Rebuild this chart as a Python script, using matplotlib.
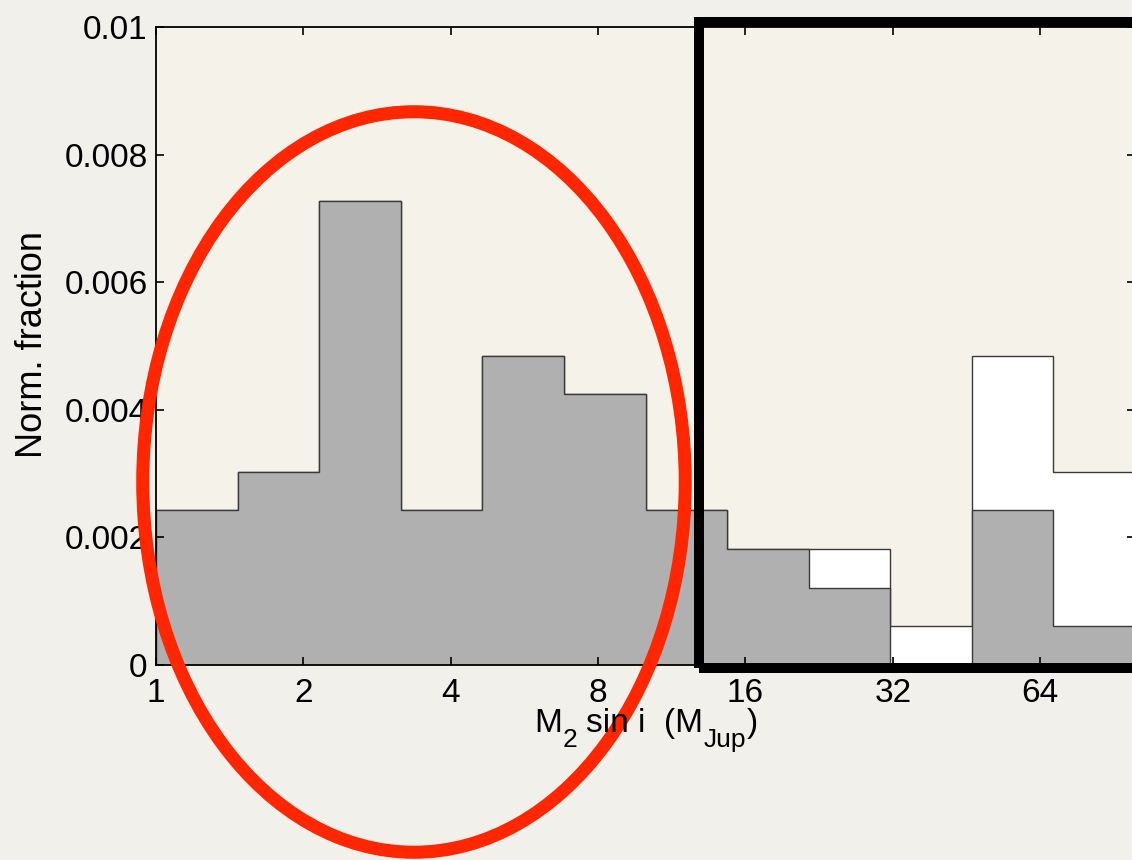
import numpy as np
import matplotlib
matplotlib.use("Agg")
import matplotlib.pyplot as plt
from matplotlib.patches import Ellipse, Rectangle
from matplotlib.ticker import NullLocator

plt.rcParams['font.family'] = ['Liberation Sans', 'DejaVu Sans']

# logarithmic mass bins (M_Jup), 6 per decade
bin_edges = [1.0, 1.468, 2.154, 3.162, 4.642, 6.813, 10.0,
             14.68, 21.54, 31.62, 46.42, 68.13, 100.0]
# full sample (white) and sub-sample (grey), normalised fraction per bin
frac_all = [0.00243, 0.00303, 0.00728, 0.00243, 0.00485, 0.00425,
            0.00243, 0.00182, 0.00182, 0.00061, 0.00485, 0.00303]
frac_sub = [0.00243, 0.00303, 0.00728, 0.00243, 0.00485, 0.00425,
            0.00243, 0.00182, 0.00121, 0.0, 0.00243, 0.00061]

x_ticks = [1, 2, 4, 8, 16, 32, 64]
y_ticks = [0, 0.002, 0.004, 0.006, 0.008, 0.01]
y_tick_labels = ['0', '0.002', '0.004', '0.006', '0.008', '0.01']

W, H = 1132, 860
fig = plt.figure(figsize=(W / 100, H / 100), dpi=100, facecolor='#f2f0eb')
ax = fig.add_axes([156 / W, 1 - 665 / H, (1135 - 156) / W, (665 - 27) / H])
ax.set_facecolor('#f5f2ea')

# filled step histograms with a thin outline
ax.stairs(frac_all, bin_edges, fill=True, color='white', lw=0)
ax.stairs(frac_all, bin_edges, baseline=0, color='#3a3a3a', lw=1.0)
ax.stairs(frac_sub, bin_edges, fill=True, color='#b0b0b0', lw=0)
ax.stairs(frac_sub, bin_edges, baseline=0, color='#3a3a3a', lw=1.0)

ax.set_xscale('log', base=2)
ax.set_xlim(1, 100)
ax.set_ylim(0, 0.01)
ax.set_xticks(x_ticks)
ax.set_xticklabels([str(v) for v in x_ticks])
ax.xaxis.set_minor_locator(NullLocator())
ax.set_yticks(y_ticks)
ax.set_yticklabels(y_tick_labels)
ax.tick_params(direction='in', top=True, right=True, length=6, width=1.2,
               labelsize=24, colors='black')
ax.tick_params(axis='x', pad=9)
ax.tick_params(axis='y', pad=6)
for s in ax.spines.values():
    s.set_linewidth(1.3)

fig.text(33 / W, 1 - 345 / H, 'Norm. fraction', rotation=90,
         ha='center', va='center', fontsize=26)

# x label built from pieces so the subscripts sit low and large
renderer = fig.canvas.get_renderer()
pieces = [('M', 0), ('2', 1), ('sin i  (M', 0), ('Jup', 1), (')', 0)]
gaps = [0, 1, 9, 0, 1]
base_y = 732
texts = []
x = 0
for (s, sub), gap in zip(pieces, gaps):
    x += gap
    size = 19 if sub else 24
    y = base_y + (15 if sub else 0)
    t = fig.text(x / W, 1 - y / H, s, fontsize=size, ha='left', va='baseline')
    bb = t.get_window_extent(renderer)
    texts.append((t, x, y))
    x += bb.width
shift = 646 - x / 2
for t, x0, y in texts:
    t.set_position(((x0 + shift) / W, 1 - y / H))

# highlight boxes drawn over the figure
fig.add_artist(Rectangle((699 / W, 1 - 668 / H), (1160 - 699) / W, (668 - 21.5) / H,
                         transform=fig.transFigure, fill=False, ec='black',
                         lw=7.2, joinstyle='miter'))
fig.add_artist(Ellipse((414 / W, 1 - 482 / H), 542.5 / W, 740.5 / H,
                       transform=fig.transFigure, fill=False, ec='#ff2600',
                       lw=9.4))

fig.savefig('out.png', dpi=100, facecolor=fig.get_facecolor())
